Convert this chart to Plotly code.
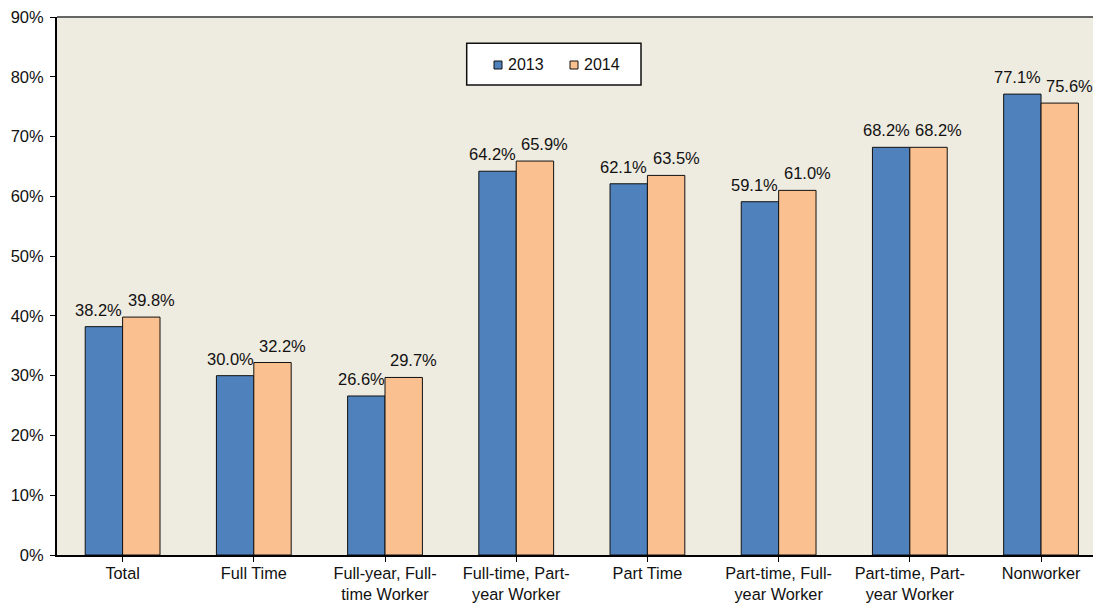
import plotly.graph_objects as go

categories = ["Total", "Full Time", "Full-year, Full-<br>time Worker", "Full-time, Part-<br>year Worker",
              "Part Time", "Part-time, Full-<br>year Worker", "Part-time, Part-<br>year Worker", "Nonworker"]
values_2013 = [38.2, 30.0, 26.6, 64.2, 62.1, 59.1, 68.2, 77.1]
values_2014 = [39.8, 32.2, 29.7, 65.9, 63.5, 61.0, 68.2, 75.6]
series_names = ["2013", "2014"]
y_ticks = [0, 10, 20, 30, 40, 50, 60, 70, 80, 90]

FONT = "Liberation Sans, Arial, sans-serif"
COLORS = ["#4F81BD", "#FAC090"]
TXT = "#111111"
BARGAP = 0.43

# figure is placed at (8, 8) in the page (body margin)
W, H = 1093, 600
ML, MT, MB, MR = 49, 9, 53, 0
PW, PH = W - ML - MR, H - MT - MB


def px(xpix):
    return (xpix - ML) / PW


def py(ypix):
    return 1 - (ypix - MT) / PH


xs = list(range(len(categories)))
fig = go.Figure()
for name, vals, col in zip(series_names, [values_2013, values_2014], COLORS):
    fig.add_trace(go.Bar(
        x=xs, y=vals, name=name,
        marker=dict(color=col, line=dict(color=TXT, width=1)),
        showlegend=False,
    ))

# data labels
half = (1 - BARGAP) / 4
for k, (vals, shift) in enumerate([(values_2013, -5), (values_2014, 10)]):
    off = -half if k == 0 else half
    for i, v in enumerate(vals):
        fig.add_annotation(x=i + off, y=v, text=f"{v:.1f}%", showarrow=False,
                           xanchor="center", yanchor="bottom", xshift=shift, yshift=6,
                           font=dict(family=FONT, size=16.5, color=TXT))

# legend drawn manually
fig.add_shape(type="rect", xref="paper", yref="paper",
              x0=px(458.7), x1=px(633), y0=py(77), y1=py(35.3),
              fillcolor="white", line=dict(color=TXT, width=1.5))
for col, mx, tx, name in [(COLORS[0], 486, 497.5, series_names[0]),
                          (COLORS[1], 562, 574, series_names[1])]:
    fig.add_shape(type="rect", xref="paper", yref="paper",
                  x0=px(mx), x1=px(mx + 8), y0=py(61), y1=py(53),
                  fillcolor=col, line=dict(color=TXT, width=1))
    fig.add_annotation(xref="paper", yref="paper", x=px(tx), y=py(57), text=name,
                       showarrow=False, xanchor="left", yanchor="middle",
                       font=dict(family=FONT, size=16, color=TXT))

fig.update_layout(
    width=W, height=H,
    margin=dict(l=ML, r=MR, t=MT, b=MB, autoexpand=False),
    barmode="group", bargap=BARGAP, bargroupgap=0,
    plot_bgcolor="#EEEBE0", paper_bgcolor="white",
    font=dict(family=FONT, size=16, color=TXT),
    showlegend=False,
    xaxis=dict(tickmode="array", tickvals=xs, ticktext=categories,
               range=[-0.5, 7.457], showline=True, linecolor="#000000", linewidth=2,
               ticks="outside", ticklen=5, tickcolor="#000000", tickson="boundaries",
               ticklabelstandoff=-3,
               tickfont=dict(family=FONT, size=16.3, color=TXT), automargin=False,
               showgrid=False, zeroline=False, fixedrange=True),
    yaxis=dict(range=[0, 90], tickmode="array", tickvals=y_ticks,
               ticktext=[f"{t}%" for t in y_ticks],
               showline=True, linecolor="#000000", linewidth=2,
               ticks="outside", ticklen=5, tickcolor="#000000",
               ticklabelstandoff=3, ticklabeloverflow="allow", automargin=False,
               tickfont=dict(family=FONT, size=16.5, color=TXT),
               showgrid=False, zeroline=False, fixedrange=True),
)
fig.add_shape(type="line", xref="paper", yref="paper", x0=0, x1=1, y0=1, y1=1,
              line=dict(color="#666666", width=2))

fig.write_html("out.html", config={"displayModeBar": False})
